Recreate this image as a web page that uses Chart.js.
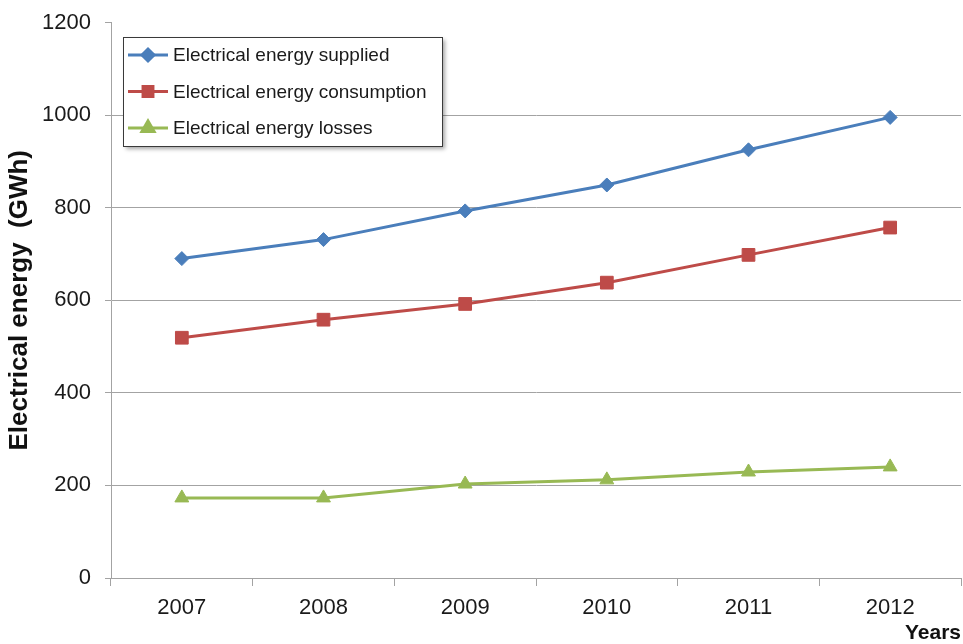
<!DOCTYPE html>
<html>
<head>
<meta charset="utf-8">
<script src="https://cdn.jsdelivr.net/npm/chart.js@4/dist/chart.umd.min.js"></script>
<style>
  html, body { margin: 0; padding: 0; background: #fff; }
  canvas { display: block; }
</style>
</head>
<body>
<canvas id="energyChart" width="963" height="644"></canvas>
<script>
  const years = ["2007", "2008", "2009", "2010", "2011", "2012"];
  const supplied = [690, 731, 793, 849, 925, 995];
  const consumption = [519, 558, 592, 638, 698, 757];
  const losses = [173, 173, 203, 212, 229, 240];
  const yTicks = [0, 200, 400, 600, 800, 1000, 1200];

  const SANS = "'Liberation Sans', Arial, sans-serif";
  const GRID = "#a3a3a3";

  const series = [
    { label: "Electrical energy supplied", data: supplied, color: "#4a7ebb", style: "rectRot", r: 7, lr: 6 },
    { label: "Electrical energy consumption", data: consumption, color: "#be4b48", style: "rect", r: 9, lr: 7 },
    { label: "Electrical energy losses", data: losses, color: "#98b954", style: "triangle", r: 8, lr: 7 }
  ];

  // boxed legend sitting inside the plot, top-left
  const boxLegend = {
    id: "boxLegend",
    afterDraw(chart) {
      const ctx = chart.ctx;
      const x = 123, y = 37, w = 319, h = 109;
      ctx.save();
      ctx.shadowColor = "rgba(0,0,0,0.35)";
      ctx.shadowOffsetX = 3;
      ctx.shadowOffsetY = 3;
      ctx.shadowBlur = 4;
      ctx.fillStyle = "#fff";
      ctx.fillRect(x, y, w, h);
      ctx.shadowColor = "transparent";
      ctx.strokeStyle = "#3a3a3a";
      ctx.lineWidth = 1;
      ctx.strokeRect(x + 0.5, y + 0.5, w, h);
      ctx.font = "19px " + SANS;
      ctx.textBaseline = "middle";
      series.forEach((s, i) => {
        const cy = 55 + i * 36.5;
        ctx.strokeStyle = s.color;
        ctx.lineWidth = 3;
        ctx.beginPath();
        ctx.moveTo(128, cy);
        ctx.lineTo(168, cy);
        ctx.stroke();
        ctx.fillStyle = s.color;
        Chart.helpers.drawPoint(ctx, { pointStyle: s.style, radius: s.lr, rotation: 0, borderWidth: 1 }, 148, cy);
        ctx.fill();
        ctx.fillStyle = "#1a1a1a";
        ctx.fillText(s.label, 173, cy + 1);
      });
      ctx.restore();
    }
  };

  new Chart(document.getElementById("energyChart").getContext("2d"), {
    type: "line",
    data: {
      labels: years,
      datasets: series.map(s => ({
        label: s.label,
        data: s.data,
        borderColor: s.color,
        backgroundColor: s.color,
        borderWidth: 3,
        pointStyle: s.style,
        pointRadius: s.r,
        pointBorderWidth: 1,
        pointBorderColor: s.color,
        pointBackgroundColor: s.color,
        tension: 0
      }))
    },
    options: {
      responsive: false,
      animation: false,
      layout: { autoPadding: false, padding: { top: 22.5, right: 2, left: 0, bottom: 0 } },
      plugins: { legend: { display: false }, tooltip: { enabled: false } },
      scales: {
        x: {
          offset: true,
          afterFit(scale) {
            scale.height = 66;
            scale.paddingLeft = 0;
            scale.paddingRight = 0;
          },
          grid: { offset: true, drawOnChartArea: false, drawTicks: true, tickLength: 8, color: GRID, lineWidth: 1 },
          border: { color: GRID, width: 1 },
          ticks: { color: "#1a1a1a", padding: 9, font: { family: SANS, size: 22 } },
          title: {
            display: true, text: "Years", align: "end", color: "#111",
            padding: 0, font: { family: SANS, size: 21, weight: "bold", lineHeight: 1 }
          }
        },
        y: {
          min: 0,
          max: 1200,
          afterFit(scale) {
            scale.width = 111;
            scale.paddingTop = 0;
            scale.paddingBottom = 0;
          },
          afterBuildTicks(scale) { scale.ticks = yTicks.map(v => ({ value: v })); },
          grid: {
            color: c => (c.tick && c.tick.value === 1200 ? "rgba(0,0,0,0)" : GRID),
            tickColor: GRID, tickLength: 6, lineWidth: 1
          },
          border: { color: GRID, width: 1 },
          ticks: {
            color: "#1a1a1a", padding: 14, font: { family: SANS, size: 22 },
            callback: v => String(v)
          },
          title: {
            display: true, text: "Electrical energy  (GWh)", color: "#111",
            padding: 4, font: { family: SANS, size: 26, weight: "bold", lineHeight: 1.2 }
          }
        }
      }
    },
    plugins: [boxLegend]
  });
</script>
</body>
</html>
